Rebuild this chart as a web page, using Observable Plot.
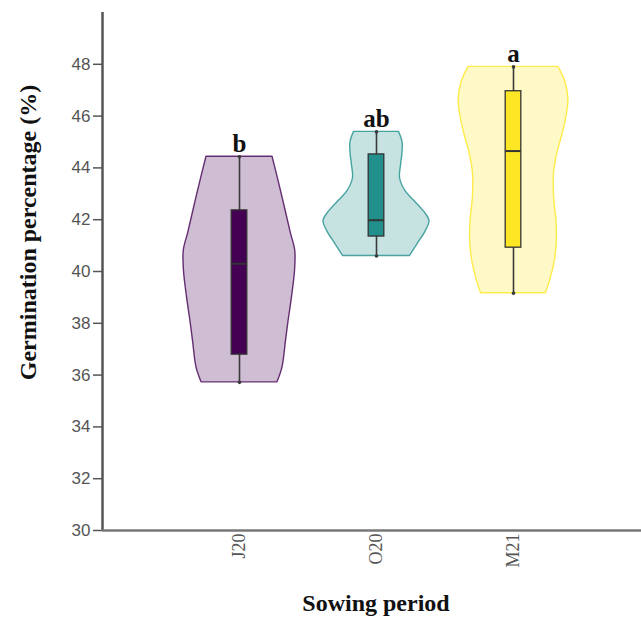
<!DOCTYPE html>
<html>
<head>
<meta charset="utf-8">
<script src="https://cdn.jsdelivr.net/npm/d3@7"></script>
<script src="https://cdn.jsdelivr.net/npm/@observablehq/plot@0.6"></script>
<style>
  html, body { margin: 0; padding: 0; background: #fff; }
  #chart svg { display: block; }
</style>
</head>
<body>
<div id="chart"></div>
<script>
// Categories and annotation letters
const periods = ["J20", "O20", "M21"];
const sigLetters = ["b", "ab", "a"];
const colors = ["#440154", "#21908c", "#fde725"];

// Box statistics (min, q1, median, q3, max) in %
const statMin = [35.72, 40.60, 39.16];
const statQ1 = [36.79, 41.35, 40.92];
const statMedian = [40.30, 41.98, 44.65];
const statQ3 = [42.36, 44.52, 46.96];
const statMax = [44.43, 45.39, 47.90];

// Violin density profiles: value (%) and relative half-width (density)
const j20Values = [44.43, 43.5, 42.5, 41.5, 40.8, 40.0, 39.0, 38.0, 37.3, 36.3, 35.72];
const j20Density = [0.241, 0.285, 0.330, 0.374, 0.407, 0.405, 0.383, 0.356, 0.339, 0.314, 0.277];
const o20Values = [45.39, 45.0, 44.6, 44.1, 43.6, 43.1, 42.72, 42.34, 41.95, 41.57, 41.05, 40.60];
const o20Density = [0.164, 0.190, 0.190, 0.179, 0.172, 0.212, 0.277, 0.343, 0.387, 0.361, 0.299, 0.245];
const m21Values = [47.90, 47.3, 46.6, 45.8, 45.3, 44.46, 43.8, 42.9, 41.9, 41.1, 40.34, 39.57, 39.16];
const m21Density = [0.328, 0.380, 0.401, 0.380, 0.358, 0.316, 0.296, 0.296, 0.314, 0.316, 0.299, 0.263, 0.237];

// Y axis ticks
const yTicks = [30, 32, 34, 36, 38, 40, 42, 44, 46, 48];

const profiles = [[j20Values, j20Density], [o20Values, o20Density], [m21Values, m21Density]];
const violin = profiles.flatMap(([vals, dens], i) =>
  vals.map((v, k) => ({i, period: periods[i], v, d: dens[k]})));
const stats = periods.map((p, i) => ({
  i, period: p, min: statMin[i], q1: statQ1[i], med: statMedian[i],
  q3: statQ3[i], max: statMax[i], letter: sigLetters[i]
}));

const boxHalf = 0.057;
const serif = "'Liberation Serif', 'Times New Roman', serif";
const sans = "'Liberation Sans', Arial, sans-serif";

const chart = Plot.plot({
  width: 641,
  height: 620,
  marginLeft: 102,
  marginRight: 0,
  marginTop: 12,
  marginBottom: 90,
  style: {background: "#fff", overflow: "visible"},
  x: {type: "linear", domain: [-1, 3], range: [102, 650]},
  y: {domain: [30, 50]},
  color: {domain: periods, range: colors},
  marks: [
    // violins
    Plot.areaX(violin, {
      z: "period", y: "v",
      x1: d => d.i - d.d, x2: d => d.i + d.d,
      fill: "period", fillOpacity: 0.26,
      stroke: "period", strokeOpacity: 0.8, strokeWidth: 1.4,
      curve: "catmull-rom"
    }),
    // whiskers
    Plot.ruleX(stats, {x: "i", y1: "min", y2: "max", stroke: "#3a3a3a", strokeWidth: 1.6}),
    Plot.dot(stats, {x: "i", y: "min", r: 1.8, fill: "#3a3a3a", stroke: null}),
    Plot.dot(stats, {x: "i", y: "max", r: 1.8, fill: "#3a3a3a", stroke: null}),
    // boxes
    Plot.rect(stats, {
      x1: d => d.i - boxHalf, x2: d => d.i + boxHalf, y1: "q1", y2: "q3",
      fill: "period", stroke: "#333", strokeWidth: 1.3
    }),
    Plot.ruleY(stats, {
      y: "med", x1: d => d.i - boxHalf, x2: d => d.i + boxHalf,
      stroke: "#333", strokeWidth: 2
    }),
    // significance letters
    Plot.text(stats, {
      x: "i", y: "max", text: "letter", lineAnchor: "bottom", dy: -5,
      fontFamily: serif, fontWeight: "bold", fontSize: 25, fill: "#111"
    }),
    // axes
    Plot.axisY({
      ticks: yTicks, tickSize: 9, tickPadding: 3, label: null,
      fontFamily: sans, fontSize: 17, color: "#555", strokeWidth: 1.5
    }),
    Plot.axisX({
      ticks: [0, 1, 2], tickFormat: i => periods[i], tickRotate: -90,
      tickSize: 0, tickPadding: 3, label: null,
      fontFamily: serif, fontSize: 18, color: "#555"
    }),
    Plot.ruleX([-1], {stroke: "#555", strokeWidth: 2.5}),
    Plot.ruleY([30], {stroke: "#777", strokeWidth: 2.5}),
    // axis titles
    Plot.text(["Germination percentage (%)"], {
      text: d => d, frameAnchor: "left", textAnchor: "middle", rotate: -90, dx: -74, dy: -39,
      fontFamily: serif, fontWeight: "bold", fontSize: 24, fill: "#111"
    }),
    Plot.text(["Sowing period"], {
      text: d => d, frameAnchor: "bottom", textAnchor: "middle", lineAnchor: "bottom", dx: 4, dy: 80,
      fontFamily: serif, fontWeight: "bold", fontSize: 24, fill: "#111"
    })
  ]
});

document.getElementById("chart").appendChild(chart);
</script>
</body>
</html>
